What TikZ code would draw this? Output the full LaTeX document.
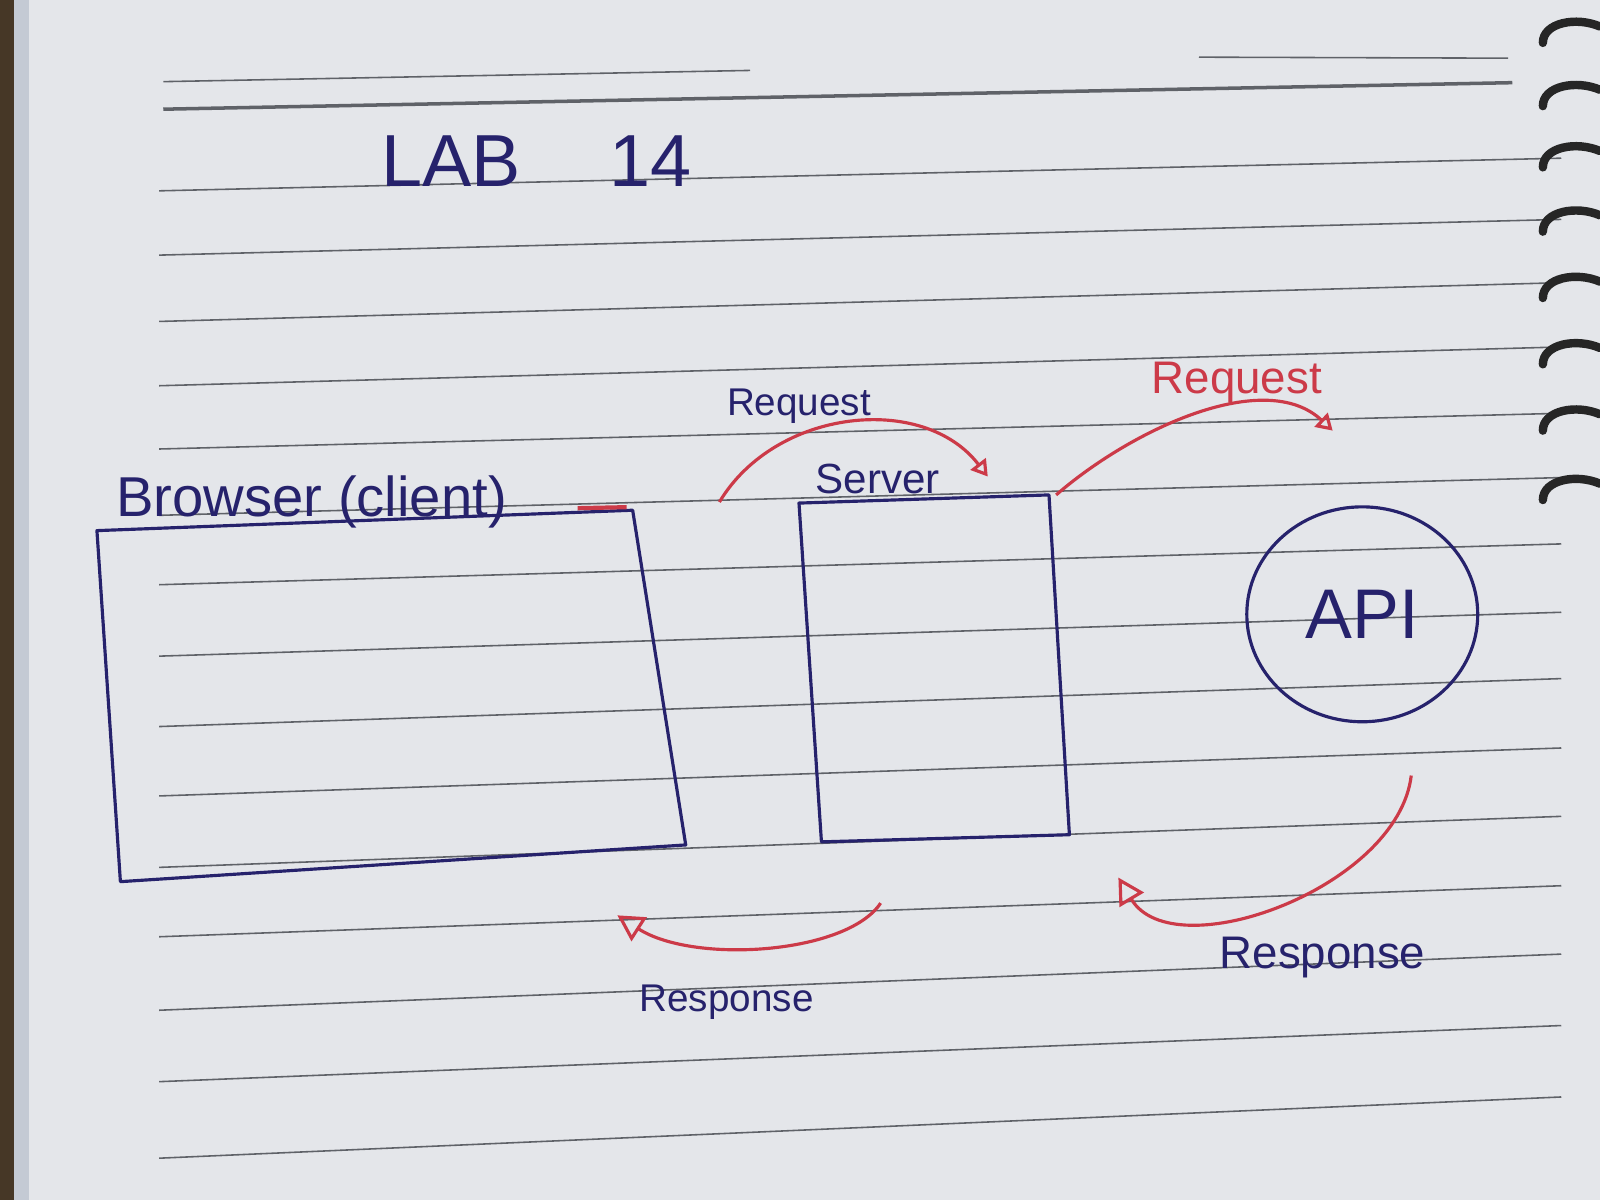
\documentclass[tikz,border=0pt]{standalone}
\usepackage{fontspec}
\setmainfont{Liberation Sans}
\usetikzlibrary{arrows.meta, shapes.geometric}
\definecolor{inkblue}{RGB}{38,34,108}
\definecolor{inkred}{RGB}{204,58,72}
\definecolor{paper}{RGB}{228,230,234}
\definecolor{pageedge}{RGB}{196,202,212}
\definecolor{rulegray}{RGB}{95,98,104}
\definecolor{desk}{RGB}{70,55,38}
\tikzset{
  rule_line/.style={rulegray, line width=0.45pt},
  box_line/.style={inkblue, line width=0.9pt, line join=round},
  api_circle/.style={ellipse, draw=inkblue, line width=0.9pt, minimum width=2.31cm, minimum height=2.15cm, inner sep=0pt},
  req_arrow/.style={-{Triangle[open, length=1.6mm, width=1.9mm]}, inkred, line width=0.9pt},
  resp_arrow/.style={-{Triangle[open, length=2.6mm, width=2.8mm]}, inkred, line width=0.9pt},
  blue_text/.style={text=inkblue, inner sep=1pt},
  red_text/.style={text=inkred, inner sep=1pt},
  ring/.style={black!85, line width=2.4pt, line cap=round}
}

\begin{document}
\begin{tikzpicture}[x=0.010204cm, y=-0.010204cm]
  \useasboundingbox (0,0) rectangle (1568,1176);

  % paper, desk and page edge
  \fill[paper] (0,0) rectangle (1568,1176);
  \fill[desk] (0,0) rectangle (14,1176);
  \fill[pageedge] (14,0) rectangle (28,1176);

  % ruled lines
  \draw[rule_line] (160,80) -- (735,69);
  \draw[rule_line] (1175,56) -- (1478,57);
  \draw[rule_line, line width=1pt] (160,107) -- (1482,81);
  \foreach \yl/\yr in {187/155, 250/215, 315/277, 378/340, 440/405, 505/468, 573/533, 643/600,
                       712/665, 780/733, 850/800, 918/868, 990/935, 1060/1005, 1135/1075}
    \draw[rule_line] (156,\yl) -- (1530,\yr);

  % spiral rings
  \foreach \y in {30,92,152,215,280,345,410,478}
    \draw[ring] (1512,\y+12) .. controls (1512,\y-8) and (1545,\y-14) .. (1568,\y-4);

  \node[blue_text, font=\fontsize{21}{25}\selectfont] (title) at (526,158) {LAB\hspace{1.2em}14};

  % browser
  \coordinate (br_nw) at (95,520);
  \coordinate (br_ne) at (620,500);
  \coordinate (br_se) at (672,828);
  \coordinate (br_sw) at (118,864);
  \draw[box_line] (br_nw) -- (br_ne) -- (br_se) -- (br_sw) -- cycle;
  \draw[inkred, line width=1.2pt] (566,498) -- (614,497);
  \node[blue_text, font=\fontsize{16}{19}\selectfont, anchor=base west] (browser_label) at (110,506) {Browser (client)};

  % server
  \coordinate (sv_nw) at (783,493);
  \coordinate (sv_ne) at (1028,485);
  \coordinate (sv_se) at (1048,818);
  \coordinate (sv_sw) at (805,825);
  \draw[box_line] (sv_nw) -- (sv_ne) -- (sv_se) -- (sv_sw) -- cycle;
  \node[blue_text, font=\fontsize{12}{14}\selectfont, anchor=base west] (server_label) at (795,484) {Server};

  % api
  \node[api_circle, blue_text, font=\fontsize{20}{24}\selectfont] (api) at (1335,602) {API};

  % requests
  \coordinate (req1_start) at (705,492);
  \coordinate (req1_end) at (968,467);
  \draw[req_arrow] (req1_start) .. controls (760,400) and (905,385) .. (req1_end);
  \node[blue_text, font=\fontsize{11}{13}\selectfont] (req1_label) at (783,398) {Request};

  \coordinate (req2_start) at (1035,485);
  \coordinate (req2_end) at (1306,422);
  \draw[req_arrow] (req2_start) .. controls (1110,420) and (1240,360) .. (req2_end);
  \node[red_text, font=\fontsize{13}{15}\selectfont] (req2_label) at (1212,375) {Request};

  % responses
  \coordinate (resp1_start) at (1383,760);
  \coordinate (resp1_end) at (1096,860);
  \draw[resp_arrow] (resp1_start) .. controls (1370,870) and (1150,950) .. (resp1_end);
  \node[blue_text, font=\fontsize{13}{15}\selectfont] (resp1_label) at (1296,938) {Response};

  \coordinate (resp2_start) at (863,885);
  \coordinate (resp2_end) at (605,897);
  \draw[resp_arrow] (resp2_start) .. controls (830,935) and (680,945) .. (resp2_end);
  \node[blue_text, font=\fontsize{11}{13}\selectfont] (resp2_label) at (712,982) {Response};
\end{tikzpicture}
\end{document}
